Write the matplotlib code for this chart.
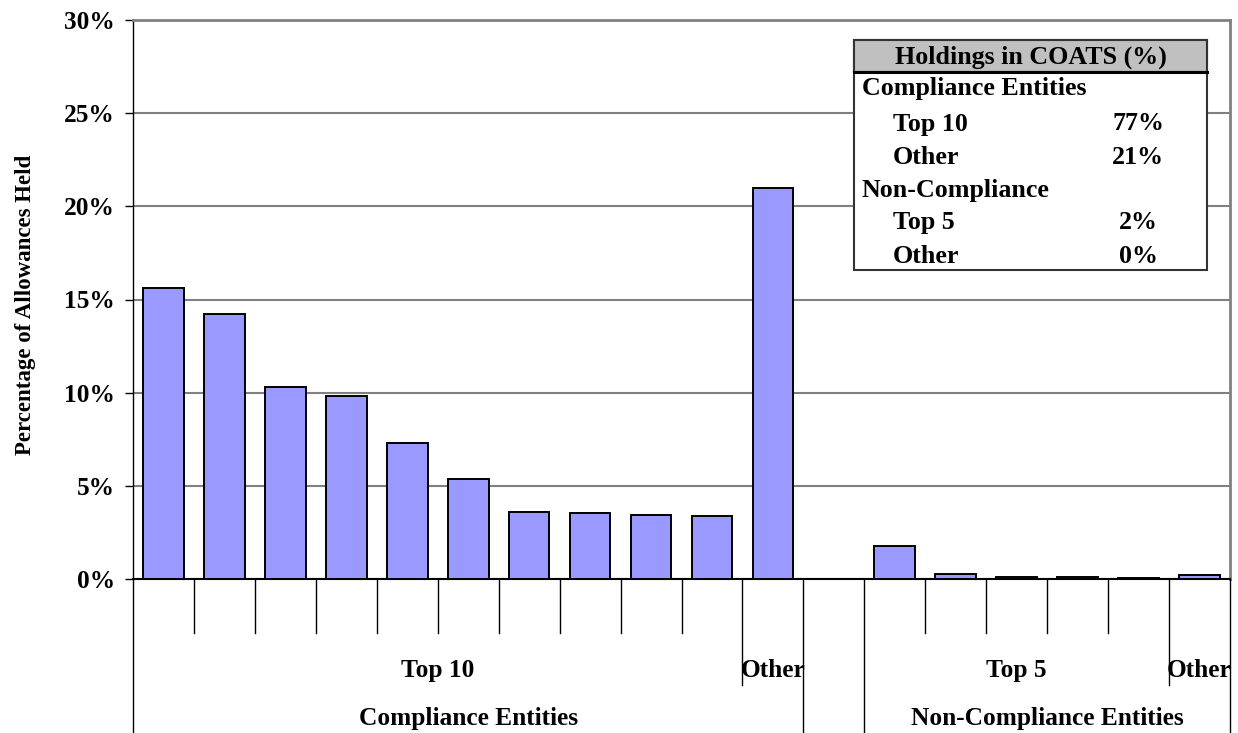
import matplotlib
matplotlib.use("Agg")
import matplotlib.pyplot as plt
from matplotlib.patches import Rectangle
from matplotlib.ticker import FuncFormatter

plt.rcParams["font.family"] = ["Liberation Serif", "DejaVu Serif"]
plt.rcParams["font.weight"] = "bold"

# Holdings per entity, percent of allowances
compliance_top10 = [15.6, 14.2, 10.3, 9.8, 7.3, 5.35, 3.6, 3.55, 3.45, 3.4]
compliance_other = 21.0
noncompliance_top5 = [1.75, 0.25, 0.13, 0.09, 0.04]
noncompliance_other = 0.2

group_labels = ["Compliance Entities", "Non-Compliance Entities"]
sub_labels = ["Top 10", "Other", "Top 5", "Other"]
table_title = "Holdings in COATS (%)"
table_rows = ["Compliance Entities", "Top 10", "Other", "Non-Compliance", "Top 5", "Other"]
y_ticks = [0, 5, 10, 15, 20, 25, 30]

FS = 18.3

W, H = 1238, 733
fig = plt.figure(figsize=(W / 100, H / 100), dpi=100)
ax = fig.add_axes([133 / W, 1 - 579 / H, (1230 - 133) / W, (579 - 20) / H])

values = compliance_top10 + [compliance_other] + [None] + noncompliance_top5 + [noncompliance_other]
slots = [(i + 0.5, v) for i, v in enumerate(values) if v is not None]
ax.bar([s[0] for s in slots], [s[1] for s in slots], width=0.667,
       color="#9999FF", edgecolor="black", linewidth=1.4, zorder=3)

ax.set_xlim(0, len(values))
ax.set_ylim(0, 30)
ax.set_yticks(y_ticks)
ax.yaxis.set_major_formatter(FuncFormatter(lambda v, _: f"{v:.0f}%"))
ax.tick_params(axis="y", length=6, width=1, pad=7, labelsize=FS, direction="out")
ax.set_xticks([])
for lbl in ax.get_yticklabels():
    lbl.set_fontweight("bold")
ax.grid(axis="y", color="#808080", linewidth=1.5, zorder=0)
ax.spines["top"].set_color("#808080")
ax.spines["top"].set_linewidth(2)
ax.spines["right"].set_color("#808080")
ax.spines["right"].set_linewidth(2)
ax.spines["left"].set_linewidth(1)
ax.spines["bottom"].set_linewidth(1.5)

ax.set_ylabel("Percentage of Allowances Held", fontsize=16.5, fontweight="bold")
ax.yaxis.set_label_coords(-0.088, 0.49)

# Multi-level category axis
xt = ax.get_xaxis_transform()
n = len(values)
full = {0, 11, 12, n}
mid = {10, 17}
for b in range(n + 1):
    if b in full:
        y0 = -0.2755
    elif b in mid:
        y0 = -0.19
    else:
        y0 = -0.0966
    ax.plot([b, b], [0, y0], transform=xt, color="black", linewidth=1,
            clip_on=False, zorder=4)

sub_pos = [5.0, 10.5, 14.5, 17.5]
for x, t in zip(sub_pos, sub_labels):
    ax.text(x, -0.163, t, transform=xt, ha="center", va="center",
            fontsize=FS, fontweight="bold")
for x, t in zip([5.5, 15.0], group_labels):
    ax.text(x, -0.249, t, transform=xt, ha="center", va="center",
            fontsize=FS, fontweight="bold")

# Summary box
def fx(px):
    return px / W

def fy(py):
    return 1 - py / H

box_l, box_r, box_t, box_b, head_b = 854, 1207, 40, 270, 72
fig.add_artist(Rectangle((fx(box_l), fy(box_b)), fx(box_r) - fx(box_l), fy(box_t) - fy(box_b),
                         transform=fig.transFigure, facecolor="white",
                         edgecolor="#333333", linewidth=1.5, zorder=5))
fig.add_artist(Rectangle((fx(box_l), fy(head_b)), fx(box_r) - fx(box_l), fy(box_t) - fy(head_b),
                         transform=fig.transFigure, facecolor="#C0C0C0",
                         edgecolor="#333333", linewidth=1.5, zorder=6))
fig.add_artist(plt.Line2D([fx(box_l), fx(box_r)], [fy(head_b), fy(head_b)],
                          transform=fig.transFigure, color="black", linewidth=2.2, zorder=7))
fig.text(fx((box_l + box_r) / 2), fy(57), table_title, ha="center", va="center",
         fontsize=FS + 0.4, fontweight="bold", zorder=8)

shares = [None, sum(compliance_top10), compliance_other, None,
          sum(noncompliance_top5), noncompliance_other]
row_y = [89, 124, 157, 191, 223, 256]
for label, share, py in zip(table_rows, shares, row_y):
    px = 862 if share is None else 893
    fig.text(fx(px), fy(py), label, ha="left", va="center",
             fontsize=FS + 0.4, fontweight="bold", zorder=8)
    if share is not None:
        fig.text(fx(1138), fy(py), f"{round(share):.0f}%", ha="center", va="center",
                 fontsize=FS + 0.4, fontweight="bold", zorder=8)

fig.savefig("out.png", dpi=100)
